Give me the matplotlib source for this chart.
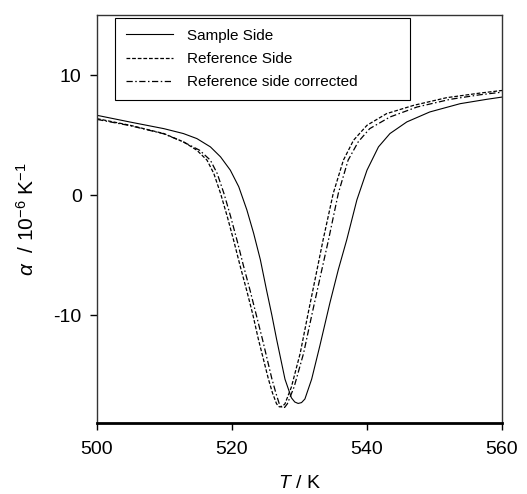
import numpy as np
import matplotlib
matplotlib.use("Agg", force=True)
import matplotlib.pyplot as plt

plt.rcParams['font.family'] = ['Liberation Sans', 'DejaVu Sans']
plt.rcParams['mathtext.fontset'] = 'custom'
plt.rcParams['mathtext.it'] = 'Liberation Sans:italic'
plt.rcParams['mathtext.rm'] = 'Liberation Sans'
plt.rcParams['axes.unicode_minus'] = False

# Sample side (solid)
t_sample = [500, 504.9, 509.9, 512.8, 514.8, 516.8, 518.3, 519.75, 521.0, 522.2, 523.2,
            524.2, 525.1, 525.9, 526.6, 527.85, 528.8, 529.3, 529.8, 530.3, 530.8,
            531.8, 533.0, 534.5, 535.75, 537.0, 538.5, 540.0, 541.7, 543.4, 545.9,
            549.3, 553.8, 557.7, 560]
a_sample = [6.64, 6.08, 5.53, 5.12, 4.70, 4.01, 3.18, 2.07, 0.69, -1.24, -3.18,
            -5.39, -7.88, -10.0, -12.0, -15.35, -16.9, -17.25, -17.37, -17.3, -17.0,
            -15.35, -12.6, -9.0, -6.22, -3.73, -0.41, 2.07, 4.01, 5.12, 6.09,
            6.92, 7.61, 7.97, 8.16]

# Reference side (dashed)
t_ref = [500, 504.9, 509.9, 512.8, 514.8, 516.3, 517.3, 518.3, 519.3, 520.3, 521.2,
         522.2, 523.1, 523.9, 525.4, 526.0, 526.6, 527.0, 527.4, 527.85, 528.8,
         530.1, 531.3, 532.5, 533.5, 535.0, 536.5, 538.0, 540.0, 542.9, 546.9,
         551.8, 556.7, 560]
a_ref = [6.36, 5.81, 5.12, 4.43, 3.73, 2.90, 1.80, 0.14, -1.80, -3.9, -5.9,
         -8.0, -10.0, -12.0, -15.35, -16.5, -17.4, -17.65, -17.65, -17.4, -16.0,
         -13.2, -9.8, -6.5, -3.73, 0.14, 2.90, 4.56, 5.81, 6.78, 7.47,
         8.11, 8.49, 8.71]

# Reference side corrected (dash-dot)
t_cor = [500, 504.9, 509.9, 512.8, 515.2, 516.8, 517.8, 518.8, 519.8, 520.8, 521.7,
         522.7, 523.6, 524.5, 525.9, 526.5, 527.0, 527.4, 527.8, 528.2, 529.2,
         530.6, 531.9, 533.2, 534.3, 535.75, 537.2, 538.7, 540.4, 543.4, 547.4,
         552.3, 556.7, 560]
a_cor = [6.3, 5.78, 5.1, 4.42, 3.73, 2.9, 1.8, 0.14, -1.8, -3.9, -5.9,
         -8.0, -10.0, -12.0, -15.3, -16.5, -17.4, -17.7, -17.7, -17.4, -16.0,
         -13.2, -9.8, -6.5, -3.73, 0.14, 2.9, 4.43, 5.53, 6.5, 7.33,
         7.97, 8.35, 8.57]

x_ticks = [500, 520, 540, 560]
y_ticks = [-10, 0, 10]

fig = plt.figure(figsize=(5.27, 4.94), dpi=100)
ax = fig.add_axes([97/527, 1 - 423/494, 405/527, 408/494])

ax.plot(t_sample, a_sample, color='black', lw=0.8, ls='-', label='Sample Side')
ax.plot(t_ref, a_ref, color='black', lw=0.9, ls=(0, (3, 1.5)), label='Reference Side')
ax.plot(t_cor, a_cor, color='black', lw=0.9, ls=(0, (5, 2, 1.2, 2)), label='Reference side corrected')

ax.set_xlim(500, 560)
ax.set_ylim(-19, 15)
ax.set_xticks(x_ticks)
ax.set_yticks(y_ticks)
ax.tick_params(direction='out', length=5, width=1, labelsize=14)
ax.tick_params(axis='x', pad=8)
ax.tick_params(axis='y', pad=6)

for s in ['top', 'right', 'left']:
    ax.spines[s].set_linewidth(1.0)
    ax.spines[s].set_color('#333333')
ax.spines['bottom'].set_linewidth(2.0)

ax.set_xlabel(r'$T$ / K', fontsize=14, labelpad=12)
ax.set_ylabel(r'$\alpha$  / 10$^{-6}$ K$^{-1}$', fontsize=15, labelpad=11)

leg = ax.legend(loc='upper left', bbox_to_anchor=(18/405, 1 - 100/408, 295/405, 0.993 - (1 - 100/408)),
                mode='expand', fontsize=11,
                frameon=True, fancybox=False, edgecolor='black', framealpha=1,
                borderaxespad=0, handlelength=3.1, handletextpad=0.9,
                borderpad=0.7, labelspacing=0.62)
leg.get_frame().set_linewidth(0.8)

fig.savefig('out.png', dpi=100)
